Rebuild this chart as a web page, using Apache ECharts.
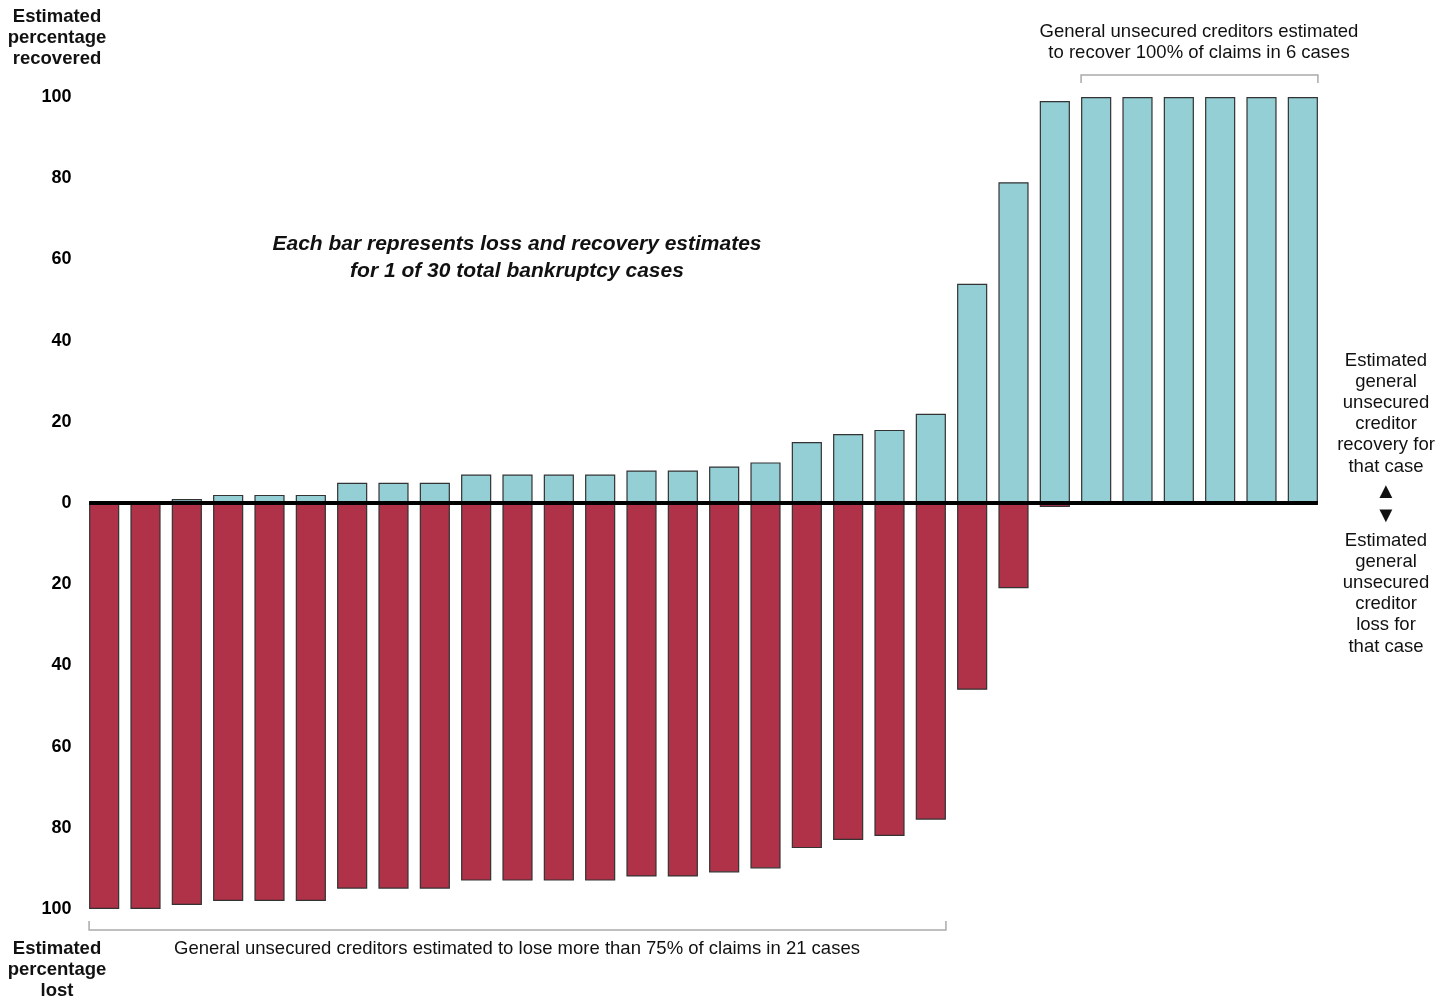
<!DOCTYPE html>
<html><head><meta charset="utf-8">
<script src="https://cdn.jsdelivr.net/npm/echarts@6/dist/echarts.min.js"></script>
<style>html,body{margin:0;padding:0;background:#fff}#c{width:1451px;height:1000px}</style>
</head><body><div id="c"></div>
<script>
const cases = Array.from({length:30},(_,i)=>'Case '+(i+1));
const recovery = [0,0,1,2,2,2,5,5,5,7,7,7,7,8,8,9,10,15,17,18,22,54,79,99,100,100,100,100,100,100];
const loss = [100,100,99,98,98,98,95,95,95,93,93,93,93,92,92,91,90,85,83,82,78,46,21,1,0,0,0,0,0,0];
const yTicks = [-100,-80,-60,-40,-20,0,20,40,60,80,100];
const lossBracket = [0,20];      // case indices (first, last) losing >75%
const recoverBracket = [24,29];  // case indices recovering 100%

const FONT = '"Liberation Sans", Arial, sans-serif';
const chart = echarts.init(document.getElementById('c'));
const option = {
  animation:false,
  grid:{left:83.5,right:127.5,top:97,bottom:91},
  xAxis:{type:'category',data:cases,axisLine:{show:false},
    axisTick:{show:false},axisLabel:{show:false}},
  yAxis:{type:'value',min:-100,max:100,interval:20,splitLine:{show:false},axisLine:{show:false},axisTick:{show:false},
    axisLabel:{formatter:v=>Math.abs(v),fontFamily:FONT,fontWeight:'bold',fontSize:18,color:'#000',margin:12}},
  series:[
    {name:'Recovery',type:'bar',data:recovery,barWidth:'73%',barGap:'-100%',
     itemStyle:{color:'#93CFD5',borderColor:'#333',borderWidth:1.2}},
    {name:'Loss',type:'bar',data:loss.map(v=>-v),barWidth:'73%',
     itemStyle:{color:'#B03248',borderColor:'#333',borderWidth:1.2}}
  ]
};
chart.setOption(option);

function edge(idx, side){
  const c = chart.convertToPixel({gridIndex:0},[idx,0])[0];
  const band = chart.convertToPixel({gridIndex:0},[1,0])[0]-chart.convertToPixel({gridIndex:0},[0,0])[0];
  return c + side*band*0.73/2;
}
const yTop = chart.convertToPixel({gridIndex:0},[0,100])[1];
const yBot = chart.convertToPixel({gridIndex:0},[0,-100])[1];
const yZero = chart.convertToPixel({gridIndex:0},[0,0])[1];
const x0 = edge(0,-1), x1 = edge(cases.length-1,1);
const lb0 = edge(lossBracket[0],-1), lb1 = edge(lossBracket[1],1);
const rb0 = edge(recoverBracket[0],-1), rb1 = edge(recoverBracket[1],1);
const bracketStyle = {stroke:'#aaa',lineWidth:1.5,fill:null};
const txt = (x,y,text,extra)=>Object.assign({type:'text',x:x,y:y,style:Object.assign({text:text,fontFamily:FONT,fontSize:18.5,fill:'#111',align:'center',verticalAlign:'top',lineHeight:21.2},extra||{})});
chart.setOption({graphic:[
  {type:'line',z:100,shape:{x1:x0,y1:yZero,x2:x1,y2:yZero},style:{stroke:'#000',lineWidth:4}},
  {type:'polyline',shape:{points:[[lb0,yBot+12],[lb0,yBot+21],[lb1,yBot+21],[lb1,yBot+12]]},style:bracketStyle},
  {type:'polyline',shape:{points:[[rb0,yTop-14],[rb0,yTop-22],[rb1,yTop-22],[rb1,yTop-14]]},style:bracketStyle},
  txt(57,6,'Estimated\npercentage\nrecovered',{fontWeight:'bold'}),
  txt(57,938,'Estimated\npercentage\nlost',{fontWeight:'bold'}),
  txt(517,231,'Each bar represents loss and recovery estimates\nfor 1 of 30 total bankruptcy cases',{fontWeight:'bold',fontStyle:'italic',fontSize:21,lineHeight:27}),
  txt(1199,21,'General unsecured creditors estimated\nto recover 100% of claims in 6 cases'),
  txt(517,938,'General unsecured creditors estimated to lose more than 75% of claims in 21 cases'),
  txt(1386,350,'Estimated\ngeneral\nunsecured\ncreditor\nrecovery for\nthat case'),
  txt(1386,481,'▲',{fontSize:22}),
  txt(1386,505,'▼',{fontSize:22}),
  txt(1386,530,'Estimated\ngeneral\nunsecured\ncreditor\nloss for\nthat case')
]});
</script></body></html>
